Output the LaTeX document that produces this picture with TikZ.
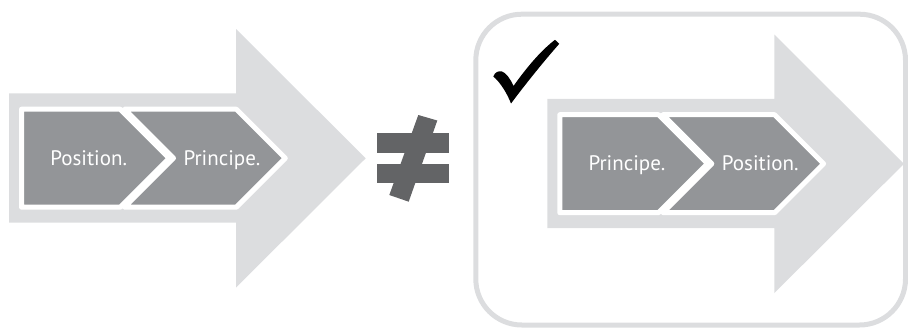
\documentclass[tikz,border=0pt]{standalone}
\usepackage{fontspec}
\setmainfont{PT Sans}
\definecolor{arrowgray}{HTML}{DCDDDF}
\definecolor{chevgray}{HTML}{939598}
\definecolor{neqgray}{HTML}{636466}
\begin{document}
\begin{tikzpicture}[x=1pt,y=-1pt,
  bigarrow/.style={fill=arrowgray},
  chev/.style={fill=chevgray,draw=white,line width=5pt,line join=round},
  label/.style={text=white,font=\fontsize{21}{24}\selectfont,anchor=base,inner sep=0pt},
  neqpart/.style={fill=neqgray}]
\useasboundingbox (0,0) rectangle (908,327);
% right frame box
\draw[draw=arrowgray,line width=5pt,rounded corners=46pt] (475.8,14.2) rectangle (905.5,325);
% left group
\begin{scope}
  \fill[bigarrow] (9,93.3) -- (236,93.3) -- (236,29) -- (365.7,158.3) -- (236,287.6) -- (236,222.7) -- (9,222.7) -- cycle;
  \filldraw[chev] (124.5,109.2) -- (236.3,109.2) -- (285.3,158.2) -- (236.3,207.2) -- (124.5,207.2) -- (173.5,158.2) -- cycle;
  \filldraw[chev] (21.5,109.2) -- (120.2,109.2) -- (169.2,158.2) -- (120.2,207.2) -- (21.5,207.2) -- cycle;
  \node[label] (lpos) at (88.7,165) {Position.};
  \node[label] (lpri) at (222,165) {Principe.};
\end{scope}
% not-equal sign
\fill[neqpart] (377.3,132.7) rectangle (449.3,152.7);
\fill[neqpart] (377.3,164) rectangle (449.3,183.3);
\fill[neqpart] (418.3,115) -- (437.3,120.5) -- (408.7,201.7) -- (389.3,195) -- cycle;
% right group
\begin{scope}[shift={(538.3,5.5)}]
  \fill[bigarrow] (9,93.3) -- (236,93.3) -- (236,29) -- (365.7,158.3) -- (236,287.6) -- (236,222.7) -- (9,222.7) -- cycle;
  \filldraw[chev] (124.5,109.2) -- (236.3,109.2) -- (285.3,158.2) -- (236.3,207.2) -- (124.5,207.2) -- (173.5,158.2) -- cycle;
  \filldraw[chev] (21.5,109.2) -- (120.2,109.2) -- (169.2,158.2) -- (120.2,207.2) -- (21.5,207.2) -- cycle;
  \node[label] (rpri) at (88.7,165) {Principe.};
  \node[label] (rpos) at (222,165) {Position.};
\end{scope}
% check mark
\fill[black] (493.3,76.5) .. controls (495,72) and (498.5,70.8) .. (501.5,71.3)
  .. controls (506,72.5) and (510.5,79) .. (513.5,86)
  .. controls (527,67) and (541,50.5) .. (555,39.8)
  -- (559.3,43.8)
  .. controls (544,61) and (524,86) .. (511,103.5)
  .. controls (507,93) and (500,82) .. cycle;
\end{tikzpicture}
\end{document}
